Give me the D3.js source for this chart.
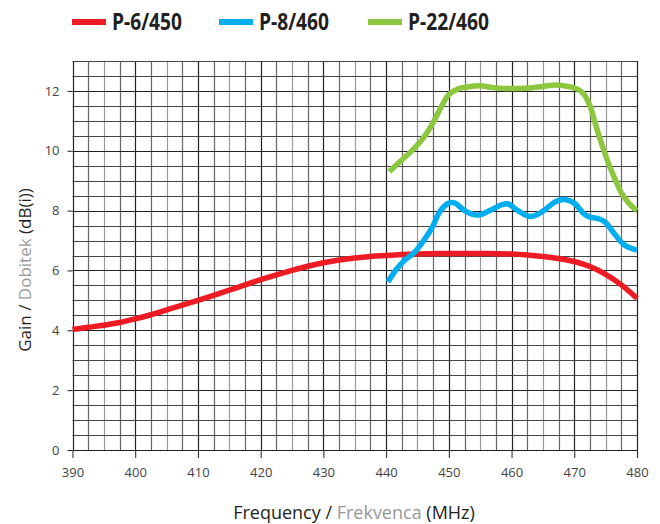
<!DOCTYPE html>
<html><head><meta charset="utf-8">
<script src="https://cdn.jsdelivr.net/npm/d3@7"></script>
<style>body{margin:0;background:#fff}</style>
</head><body>
<svg id="c" width="660" height="524"></svg>
<script>
const seriesNames = ["P-6/450", "P-8/460", "P-22/460"];
const seriesColors = ["#ed1c24", "#00aeef", "#8dc63f"];
const redFreq = [390, 392.5, 395, 397.5, 400, 402.5, 405, 407.5, 410, 412.5, 415, 417.5, 420, 422.5, 425, 427.5, 430, 432.5, 435, 437.5, 440, 442.5, 445, 447.5, 450, 452.5, 455, 457.5, 460, 462.5, 465, 467.5, 470, 472.5, 475, 477.5, 480];
const redGain = [4.03, 4.1, 4.17, 4.26, 4.38, 4.52, 4.68, 4.84, 5.0, 5.17, 5.34, 5.52, 5.69, 5.85, 6.0, 6.14, 6.26, 6.35, 6.42, 6.47, 6.5, 6.53, 6.55, 6.56, 6.57, 6.57, 6.57, 6.56, 6.55, 6.52, 6.47, 6.4, 6.3, 6.13, 5.87, 5.52, 5.07];
const blueFreq = [440.3, 441.5, 443, 444.5, 446, 447.5, 448.5, 450, 451, 452.5, 454.5, 456.5, 458.5, 459.5, 461, 463, 465, 467, 468.5, 470, 471.5, 472.5, 474, 475, 476.5, 478, 480];
const blueGain = [5.62, 6.0, 6.35, 6.6, 7.0, 7.5, 7.95, 8.25, 8.25, 8.0, 7.85, 8.0, 8.2, 8.22, 8.0, 7.8, 7.98, 8.3, 8.37, 8.25, 7.9, 7.78, 7.72, 7.6, 7.2, 6.85, 6.68];
const greenFreq = [440.5, 442, 444, 446, 447.5, 449, 450, 451.5, 453, 455, 457, 459, 461, 463, 465, 467, 469, 470.5, 471.5, 472.5, 473.5, 474.5, 475.5, 476.5, 477.5, 478.5, 479.5, 480];
const greenGain = [9.3, 9.6, 9.98, 10.45, 10.95, 11.55, 11.88, 12.07, 12.13, 12.17, 12.11, 12.08, 12.08, 12.1, 12.15, 12.2, 12.15, 12.06, 11.9, 11.5, 10.8, 10.15, 9.55, 9.05, 8.6, 8.3, 8.08, 8.0];
const xTicks = [390, 400, 410, 420, 430, 440, 450, 460, 470, 480];
const yTicks = [0, 2, 4, 6, 8, 10, 12];

const svg = d3.select("#c");
const L = 72.5, R = 637, T = 61, B = 450;
const x = d3.scaleLinear().domain([390, 480]).range([L, R]);
const y = d3.scaleLinear().domain([0, 13]).range([B, T]);

const g = svg.append("g");
d3.range(390, 480.01, 2.5).forEach((f, i) => {
  const major = Math.abs(f % 10) < 1e-6;
  g.append("line").attr("x1", Math.round(x(f)) + 0.5).attr("x2", Math.round(x(f)) + 0.5)
    .attr("y1", T).attr("y2", B)
    .attr("stroke", major ? "#222" : (i % 2 ? "#666" : "#999")).attr("stroke-width", 1.2);
});
d3.range(0, 13.01, 0.5).forEach(v => {
  g.append("line").attr("x1", L).attr("x2", R)
    .attr("y1", Math.round(y(v)) + 0.5).attr("y2", Math.round(y(v)) + 0.5)
    .attr("stroke", Math.abs(v % 2) < 1e-6 ? "#222" : "#444").attr("stroke-width", 1.2);
});

const xAxis = d3.axisBottom(x).tickValues(xTicks).tickSize(8).tickPadding(10).tickFormat(d3.format("d"));
const ax = svg.append("g").attr("transform", `translate(0,${B})`).call(xAxis);
ax.select(".domain").remove();
ax.selectAll("line").attr("stroke", "#222");
ax.selectAll("text").attr("font-family", "'Open Sans', sans-serif").attr("font-size", 13).attr("fill", "#444");

const yAxis = d3.axisLeft(y).tickValues(yTicks).tickSize(5).tickPadding(8).tickFormat(d3.format("d"));
const ay = svg.append("g").attr("transform", `translate(${L},0)`).call(yAxis);
ay.select(".domain").remove();
ay.selectAll("line").attr("stroke", "#222");
ay.selectAll("text").attr("font-family", "'Open Sans', sans-serif").attr("font-size", 13).attr("fill", "#444");

const line = d3.line().x(d => x(d[0])).y(d => y(d[1])).curve(d3.curveCatmullRom.alpha(0.5));
const data = [
  d3.zip(redFreq, redGain),
  d3.zip(blueFreq, blueGain),
  d3.zip(greenFreq, greenGain)
];
data.forEach((d, i) => {
  svg.append("path").datum(d).attr("d", line).attr("fill", "none")
    .attr("stroke", seriesColors[i]).attr("stroke-width", 5.5).attr("stroke-linecap", "butt");
});

const legX = [72, 219, 368];
const legW = [70, 70, 81];
seriesNames.forEach((n, i) => {
  svg.append("rect").attr("x", legX[i]).attr("y", 19).attr("width", 34).attr("height", 6).attr("fill", seriesColors[i]);
  svg.append("text").attr("x", legX[i] + 40).attr("y", 30)
    .attr("font-family", "'Liberation Sans Narrow', 'Open Sans', sans-serif")
    .attr("font-weight", "bold").attr("font-size", 24).attr("fill", "#231f20")
    .attr("textLength", legW[i]).attr("lengthAdjust", "spacingAndGlyphs").text(n);
});

const xt = svg.append("text").attr("x", 354).attr("y", 519).attr("text-anchor", "middle")
  .attr("font-family", "'Open Sans', sans-serif").attr("font-size", 18).attr("fill", "#231f20");
xt.append("tspan").text("Frequency / ");
xt.append("tspan").attr("fill", "#999").text("Frekvenca");
xt.append("tspan").text(" (MHz)");

const yt = svg.append("text").attr("transform", "translate(31,270) rotate(-90)").attr("text-anchor", "middle")
  .attr("font-family", "'Open Sans', sans-serif").attr("font-size", 17).attr("fill", "#231f20");
yt.append("tspan").text("Gain / ");
yt.append("tspan").attr("fill", "#999").text("Dobitek");
yt.append("tspan").text(" (dB(i))");
</script>
</body></html>
